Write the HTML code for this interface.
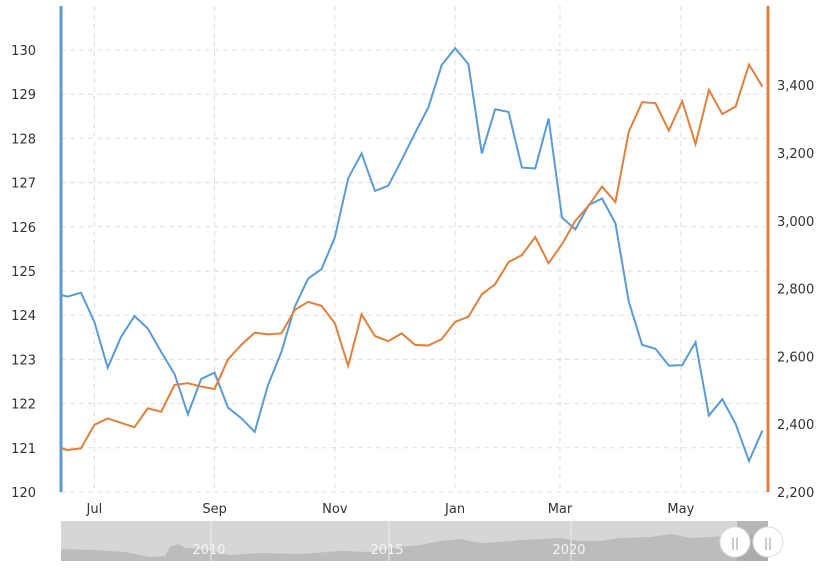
<!DOCTYPE html>
<html><head><meta charset="utf-8"><style>
body{margin:0;background:#fff;width:832px;height:568px;overflow:hidden;font-family:"Liberation Sans",sans-serif}
svg text{font-family:"DejaVu Sans","Liberation Sans",sans-serif;font-size:13px;fill:#333}
</style></head><body>
<svg id="chart" width="832" height="568" xmlns="http://www.w3.org/2000/svg">
<g id="grid"></g>
<g id="axes"></g>
<g id="series"></g>
<g id="nav"></g>
</svg>
<script>
const weeks=[-0.5,0,1,2,3,4,5,6,7,8,9,10,11,12,13,14,15,16,17,18,19,20,21,22,23,24,25,26,27,28,29,30,31,32,33,34,35,36,37,38,39,40,41,42,43,44,45,46,47,48,49,50,51,52];
const blueValues=[124.46,124.42,124.51,123.85,122.81,123.51,123.98,123.70,123.17,122.67,121.76,122.56,122.70,121.91,121.67,121.36,122.42,123.17,124.19,124.83,125.04,125.76,127.10,127.66,126.81,126.93,127.51,128.12,128.70,129.66,130.04,129.68,127.66,128.66,128.60,127.34,127.32,128.45,126.21,125.94,126.49,126.64,126.08,124.31,123.33,123.24,122.86,122.87,123.39,121.73,122.10,121.54,120.70,121.39];
const orangeValues=[2329,2324,2329,2398,2417,2404,2391,2447,2437,2516,2521,2511,2504,2591,2634,2670,2665,2668,2737,2761,2749,2698,2572,2724,2660,2645,2668,2634,2632,2651,2702,2717,2783,2813,2878,2899,2952,2875,2931,3000,3045,3101,3055,3263,3350,3347,3266,3353,3226,3386,3315,3337,3461,3396];
const leftTicks=[120,121,122,123,124,125,126,127,128,129,130];
const rightTicks=[2200,2400,2600,2800,3000,3200,3400];
const monthLabels=["Jul","Sep","Nov","Jan","Mar","May"];
const monthWeeks=[2,11,20,29,36.85,45.9];
const navYears=["2010","2015","2020"];

const NS="http://www.w3.org/2000/svg";
const L=61,R=768,T=6,B=492;
const xS=w=>81+(w-1)*13.36;
const yL=v=>492-(v-120)*44.2;
const yR=v=>492-(v-2200)/200*67.8;
function mk(tag,attrs,parent){const e=document.createElementNS(NS,tag);for(const k in attrs)e.setAttribute(k,attrs[k]);parent.appendChild(e);return e;}
const grid=document.getElementById('grid'),axes=document.getElementById('axes'),series=document.getElementById('series'),nav=document.getElementById('nav');

leftTicks.forEach(v=>{
  const y=yL(v);
  const g=mk('line',{x1:L,x2:R,y1:y,y2:y,stroke:'#ddd','stroke-dasharray':'5,4'},grid);
  
  
  const t=mk('text',{x:L-25,y:y+5,'text-anchor':'end'},axes);
  t.textContent=v;
  
  
});
rightTicks.forEach(v=>{
  const t=mk('text',{x:R+9,y:yR(v)+5},axes);
  t.textContent=v.toLocaleString('en-US');
  
  
});
monthLabels.forEach((m,i)=>{
  const x=xS(monthWeeks[i]);
  const g=mk('line',{x1:x,x2:x,y1:T,y2:B,stroke:'#ddd','stroke-dasharray':'5,4'},grid);
  
  
  const t=mk('text',{x:x,y:513,'text-anchor':'middle'},axes);
  t.textContent=m;
  
  
});
const la=mk('line',{x1:L,x2:L,y1:T,y2:B,stroke:'#5b9bd5','stroke-width':3},axes);


const ra=mk('line',{x1:R,x2:R,y1:T,y2:B,stroke:'#e08040','stroke-width':3},axes);



const pb=mk('polyline',{points:weeks.map((w,i)=>xS(w)+','+yL(blueValues[i])).join(' '),fill:'none',stroke:'#5b9bd5','stroke-width':2},series);


const po=mk('polyline',{points:weeks.map((w,i)=>xS(w)+','+yR(orangeValues[i])).join(' '),fill:'none',stroke:'#e0803d','stroke-width':2},series);



// navigator
const bg=mk('rect',{x:L,y:521,width:R-L,height:40,fill:'#d6d6d6'},nav);


const area=mk('path',{d:'M61 561 L61 549 L95 550 L125 552 L150 557 L165 556 L170 547 L178 544 L185 548 L200 549 L230 555 L260 553 L300 554 L340 551 L370 552 L400 547 L420 545 L440 541 L460 539 L480 543 L500 542 L520 540 L540 539 L560 538 L580 541 L600 541 L620 538 L650 537 L672 534 L690 538 L710 537 L737 535 L768 536 L768 561 Z',fill:'#bcbcbc'},nav);


const sel=mk('rect',{x:737,y:521,width:31,height:40,fill:'#a0a0a0','fill-opacity':0.6},nav);


[211,389,571].forEach((x,i)=>{
  const l=mk('line',{x1:x,x2:x,y1:521,y2:561,stroke:'#eee'},nav);
  
  
  const t=mk('text',{x:x-2,y:554,'text-anchor':'middle',style:'fill:#f4f4f4;font-size:13px'},nav);
  t.textContent=navYears[i];
  
  
});
[735,768].forEach(x=>{
  const c=mk('circle',{cx:x,cy:542,r:15,fill:'#fff',stroke:'#ddd'},nav);
  
  
  const t=mk('text',{x:x,y:547,'text-anchor':'middle',style:'fill:#999;font-size:12px'},nav);
  t.textContent='||';
  
  
});
</script>
</body></html>
